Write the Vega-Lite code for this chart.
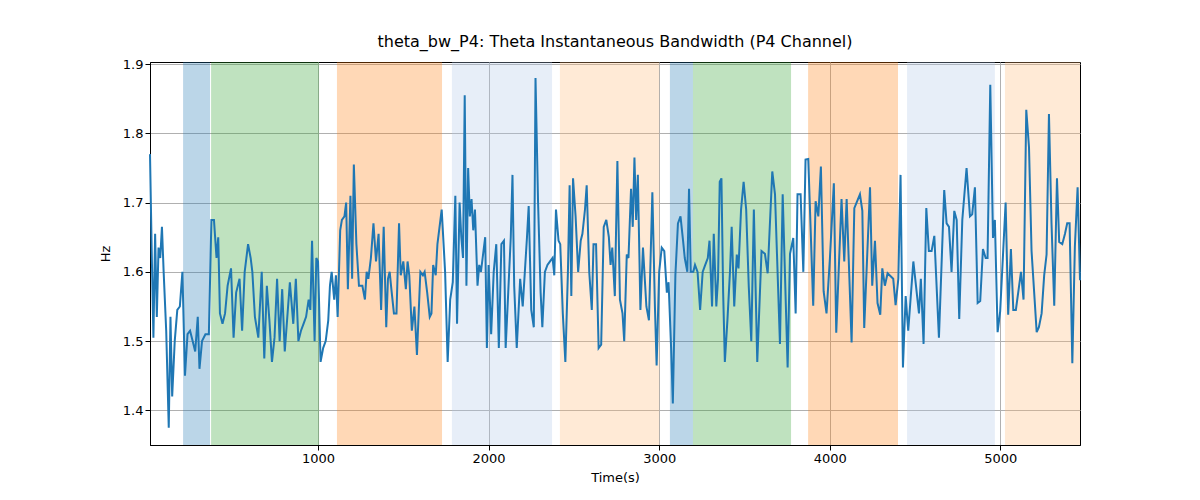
{
  "$schema": "https://vega.github.io/schema/vega-lite/v6.json",
  "width": 930,
  "height": 383,
  "autosize": "none",
  "padding": {"left": 150, "top": 62, "right": 120, "bottom": 55},
  "title": {"text": "theta_bw_P4: Theta Instantaneous Bandwidth (P4 Channel)", "font": "DejaVu Sans", "fontSize": 16, "fontWeight": "normal", "offset": 8},
  "datasets": {
    "bands": [
      {"x0": 209, "x1": 367, "c": "a"},
      {"x0": 373, "x1": 1006, "c": "g"},
      {"x0": 1111, "x1": 1727, "c": "o"},
      {"x0": 1785, "x1": 2372, "c": "lb"},
      {"x0": 2418, "x1": 3000, "c": "lo"},
      {"x0": 3063, "x1": 3198, "c": "a"},
      {"x0": 3198, "x1": 3773, "c": "g"},
      {"x0": 3873, "x1": 4400, "c": "o"},
      {"x0": 4453, "x1": 4968, "c": "lb"},
      {"x0": 5027, "x1": 5467, "c": "lo"}
    ],
    "line": [
      {"t":15,"v":1.77},{"t":25,"v":1.63},{"t":35,"v":1.505},{"t":45,"v":1.655},{"t":55,"v":1.535},{"t":65,"v":1.635},{"t":75,"v":1.62},{"t":85,"v":1.665},{"t":95,"v":1.6},{"t":110,"v":1.515},{"t":125,"v":1.375},{"t":135,"v":1.535},{"t":145,"v":1.42},{"t":160,"v":1.5},{"t":175,"v":1.545},{"t":190,"v":1.55},{"t":205,"v":1.6},{"t":220,"v":1.45},{"t":235,"v":1.51},{"t":250,"v":1.515},{"t":265,"v":1.5},{"t":280,"v":1.485},{"t":295,"v":1.535},{"t":305,"v":1.46},{"t":320,"v":1.5},{"t":340,"v":1.51},{"t":360,"v":1.51},{"t":375,"v":1.675},{"t":390,"v":1.675},{"t":405,"v":1.62},{"t":415,"v":1.65},{"t":425,"v":1.54},{"t":440,"v":1.525},{"t":455,"v":1.54},{"t":470,"v":1.58},{"t":490,"v":1.605},{"t":505,"v":1.505},{"t":520,"v":1.57},{"t":540,"v":1.59},{"t":555,"v":1.515},{"t":570,"v":1.6},{"t":590,"v":1.64},{"t":605,"v":1.62},{"t":615,"v":1.6},{"t":630,"v":1.535},{"t":650,"v":1.505},{"t":670,"v":1.6},{"t":685,"v":1.475},{"t":700,"v":1.58},{"t":715,"v":1.53},{"t":730,"v":1.47},{"t":745,"v":1.505},{"t":760,"v":1.59},{"t":775,"v":1.5},{"t":790,"v":1.575},{"t":805,"v":1.485},{"t":820,"v":1.535},{"t":835,"v":1.585},{"t":855,"v":1.525},{"t":870,"v":1.59},{"t":885,"v":1.5},{"t":900,"v":1.515},{"t":915,"v":1.525},{"t":930,"v":1.535},{"t":945,"v":1.56},{"t":955,"v":1.545},{"t":965,"v":1.645},{"t":980,"v":1.5},{"t":990,"v":1.62},{"t":1000,"v":1.615},{"t":1015,"v":1.47},{"t":1030,"v":1.49},{"t":1045,"v":1.5},{"t":1060,"v":1.53},{"t":1070,"v":1.58},{"t":1080,"v":1.6},{"t":1095,"v":1.56},{"t":1105,"v":1.595},{"t":1115,"v":1.535},{"t":1130,"v":1.66},{"t":1140,"v":1.675},{"t":1155,"v":1.68},{"t":1165,"v":1.7},{"t":1175,"v":1.575},{"t":1190,"v":1.71},{"t":1200,"v":1.59},{"t":1210,"v":1.755},{"t":1225,"v":1.64},{"t":1240,"v":1.58},{"t":1260,"v":1.58},{"t":1275,"v":1.56},{"t":1285,"v":1.6},{"t":1295,"v":1.59},{"t":1310,"v":1.62},{"t":1325,"v":1.67},{"t":1340,"v":1.615},{"t":1355,"v":1.655},{"t":1370,"v":1.545},{"t":1385,"v":1.665},{"t":1400,"v":1.52},{"t":1410,"v":1.59},{"t":1420,"v":1.6},{"t":1430,"v":1.575},{"t":1445,"v":1.54},{"t":1460,"v":1.54},{"t":1475,"v":1.67},{"t":1485,"v":1.595},{"t":1500,"v":1.615},{"t":1515,"v":1.575},{"t":1525,"v":1.615},{"t":1535,"v":1.595},{"t":1550,"v":1.515},{"t":1565,"v":1.55},{"t":1580,"v":1.48},{"t":1600,"v":1.6},{"t":1615,"v":1.595},{"t":1625,"v":1.6},{"t":1640,"v":1.57},{"t":1655,"v":1.535},{"t":1665,"v":1.54},{"t":1675,"v":1.61},{"t":1690,"v":1.595},{"t":1700,"v":1.64},{"t":1715,"v":1.67},{"t":1725,"v":1.69},{"t":1745,"v":1.6},{"t":1760,"v":1.47},{"t":1775,"v":1.56},{"t":1790,"v":1.585},{"t":1805,"v":1.71},{"t":1815,"v":1.525},{"t":1830,"v":1.7},{"t":1840,"v":1.65},{"t":1850,"v":1.62},{"t":1860,"v":1.855},{"t":1870,"v":1.58},{"t":1880,"v":1.75},{"t":1890,"v":1.68},{"t":1900,"v":1.705},{"t":1910,"v":1.66},{"t":1920,"v":1.69},{"t":1935,"v":1.58},{"t":1945,"v":1.61},{"t":1955,"v":1.6},{"t":1965,"v":1.62},{"t":1980,"v":1.65},{"t":1990,"v":1.49},{"t":2000,"v":1.61},{"t":2015,"v":1.51},{"t":2030,"v":1.6},{"t":2045,"v":1.64},{"t":2060,"v":1.49},{"t":2075,"v":1.64},{"t":2090,"v":1.645},{"t":2100,"v":1.49},{"t":2115,"v":1.57},{"t":2130,"v":1.65},{"t":2140,"v":1.74},{"t":2150,"v":1.58},{"t":2165,"v":1.49},{"t":2185,"v":1.59},{"t":2200,"v":1.55},{"t":2215,"v":1.61},{"t":2225,"v":1.65},{"t":2235,"v":1.695},{"t":2250,"v":1.545},{"t":2265,"v":1.52},{"t":2275,"v":1.88},{"t":2290,"v":1.7},{"t":2305,"v":1.57},{"t":2315,"v":1.52},{"t":2330,"v":1.6},{"t":2345,"v":1.61},{"t":2360,"v":1.615},{"t":2375,"v":1.62},{"t":2385,"v":1.595},{"t":2395,"v":1.69},{"t":2410,"v":1.645},{"t":2420,"v":1.64},{"t":2435,"v":1.54},{"t":2450,"v":1.47},{"t":2465,"v":1.6},{"t":2475,"v":1.725},{"t":2485,"v":1.565},{"t":2495,"v":1.735},{"t":2510,"v":1.68},{"t":2525,"v":1.6},{"t":2540,"v":1.645},{"t":2550,"v":1.655},{"t":2565,"v":1.69},{"t":2575,"v":1.725},{"t":2590,"v":1.6},{"t":2605,"v":1.545},{"t":2615,"v":1.64},{"t":2630,"v":1.64},{"t":2645,"v":1.49},{"t":2660,"v":1.495},{"t":2675,"v":1.665},{"t":2690,"v":1.675},{"t":2705,"v":1.65},{"t":2715,"v":1.61},{"t":2725,"v":1.635},{"t":2740,"v":1.565},{"t":2755,"v":1.76},{"t":2770,"v":1.56},{"t":2785,"v":1.54},{"t":2795,"v":1.5},{"t":2810,"v":1.625},{"t":2820,"v":1.62},{"t":2835,"v":1.72},{"t":2845,"v":1.665},{"t":2855,"v":1.765},{"t":2865,"v":1.675},{"t":2875,"v":1.74},{"t":2890,"v":1.545},{"t":2905,"v":1.635},{"t":2925,"v":1.55},{"t":2940,"v":1.53},{"t":2960,"v":1.715},{"t":2975,"v":1.55},{"t":2985,"v":1.465},{"t":3000,"v":1.6},{"t":3015,"v":1.635},{"t":3030,"v":1.63},{"t":3045,"v":1.57},{"t":3055,"v":1.585},{"t":3070,"v":1.49},{"t":3080,"v":1.41},{"t":3095,"v":1.595},{"t":3110,"v":1.67},{"t":3125,"v":1.68},{"t":3140,"v":1.645},{"t":3150,"v":1.62},{"t":3165,"v":1.6},{"t":3175,"v":1.72},{"t":3185,"v":1.6},{"t":3200,"v":1.6},{"t":3210,"v":1.61},{"t":3225,"v":1.6},{"t":3240,"v":1.545},{"t":3255,"v":1.6},{"t":3270,"v":1.61},{"t":3285,"v":1.62},{"t":3295,"v":1.645},{"t":3310,"v":1.55},{"t":3320,"v":1.655},{"t":3335,"v":1.55},{"t":3345,"v":1.59},{"t":3355,"v":1.73},{"t":3365,"v":1.735},{"t":3375,"v":1.57},{"t":3385,"v":1.47},{"t":3400,"v":1.53},{"t":3415,"v":1.6},{"t":3425,"v":1.665},{"t":3440,"v":1.55},{"t":3455,"v":1.625},{"t":3465,"v":1.605},{"t":3480,"v":1.69},{"t":3495,"v":1.73},{"t":3510,"v":1.69},{"t":3525,"v":1.58},{"t":3540,"v":1.5},{"t":3555,"v":1.69},{"t":3575,"v":1.47},{"t":3600,"v":1.63},
      {"t":3620,"v":1.626},{"t":3636,"v":1.598},{"t":3663,"v":1.745},{"t":3679,"v":1.712},{"t":3708,"v":1.496},{"t":3724,"v":1.712},{"t":3753,"v":1.462},{"t":3767,"v":1.626},{"t":3786,"v":1.649},{"t":3800,"v":1.54},{"t":3811,"v":1.712},{"t":3829,"v":1.712},{"t":3845,"v":1.6},{"t":3858,"v":1.762},{"t":3874,"v":1.763},{"t":3903,"v":1.551},{"t":3917,"v":1.702},{"t":3933,"v":1.68},{"t":3948,"v":1.752},{"t":3964,"v":1.572},{"t":3981,"v":1.54},{"t":4001,"v":1.62},{"t":4024,"v":1.728},{"t":4038,"v":1.512},{"t":4069,"v":1.705},{"t":4085,"v":1.615},{"t":4099,"v":1.705},{"t":4128,"v":1.498},{"t":4144,"v":1.692},{"t":4177,"v":1.712},{"t":4191,"v":1.688},{"t":4202,"v":1.519},{"t":4236,"v":1.722},{"t":4249,"v":1.58},{"t":4265,"v":1.645},{"t":4280,"v":1.555},{"t":4296,"v":1.538},{"t":4308,"v":1.605},{"t":4323,"v":1.58},{"t":4339,"v":1.598},{"t":4372,"v":1.59},{"t":4386,"v":1.552},{"t":4402,"v":1.59},{"t":4415,"v":1.74},{"t":4429,"v":1.462},{"t":4445,"v":1.565},{"t":4460,"v":1.515},{"t":4490,"v":1.615},{"t":4523,"v":1.54},{"t":4534,"v":1.59},{"t":4550,"v":1.496},{"t":4566,"v":1.692},{"t":4581,"v":1.63},{"t":4597,"v":1.63},{"t":4613,"v":1.652},{"t":4640,"v":1.505},{"t":4671,"v":1.718},{"t":4685,"v":1.67},{"t":4699,"v":1.665},{"t":4714,"v":1.6},{"t":4730,"v":1.688},{"t":4744,"v":1.675},{"t":4759,"v":1.532},{"t":4777,"v":1.675},{"t":4802,"v":1.75},{"t":4822,"v":1.68},{"t":4835,"v":1.683},{"t":4851,"v":1.722},{"t":4867,"v":1.555},{"t":4882,"v":1.558},{"t":4898,"v":1.633},{"t":4914,"v":1.62},{"t":4925,"v":1.62},{"t":4941,"v":1.87},{"t":4957,"v":1.649},{"t":4968,"v":1.675},{"t":4984,"v":1.513},{"t":4999,"v":1.543},{"t":5031,"v":1.7},{"t":5046,"v":1.538},{"t":5062,"v":1.633},{"t":5076,"v":1.545},{"t":5091,"v":1.545},{"t":5121,"v":1.6},{"t":5136,"v":1.56},{"t":5152,"v":1.834},{"t":5168,"v":1.78},{"t":5183,"v":1.63},{"t":5213,"v":1.513},{"t":5226,"v":1.52},{"t":5242,"v":1.54},{"t":5257,"v":1.595},{"t":5271,"v":1.625},{"t":5285,"v":1.828},{"t":5300,"v":1.67},{"t":5316,"v":1.551},{"t":5332,"v":1.735},{"t":5345,"v":1.643},{"t":5363,"v":1.64},{"t":5379,"v":1.655},{"t":5392,"v":1.67},{"t":5406,"v":1.67},{"t":5422,"v":1.468},{"t":5437,"v":1.637},{"t":5453,"v":1.722},{"t":5467,"v":1.588}
    ]
  },
  "layer": [
    {
      "data": {"name": "bands"},
      "mark": {"type": "rect", "opacity": 0.3},
      "encoding": {
        "x": {"field": "x0", "type": "quantitative"},
        "x2": {"field": "x1"},
        "color": {
          "field": "c", "type": "nominal", "legend": null,
          "scale": {"domain": ["a", "g", "o", "lb", "lo"], "range": ["#1f77b4", "#2ca02c", "#ff7f0e", "#aec7e8", "#ffbb78"]}
        }
      }
    },
    {
      "data": {"name": "line"},
      "mark": {"type": "line", "color": "#1f77b4", "strokeWidth": 2},
      "encoding": {
        "x": {
          "field": "t", "type": "quantitative", "title": "Time(s)",
          "scale": {"domain": [15, 5467], "nice": false, "zero": false},
          "axis": {"values": [1000, 2000, 3000, 4000, 5000], "format": "d"}
        },
        "y": {
          "field": "v", "type": "quantitative", "title": "Hz",
          "scale": {"domain": [1.35, 1.903], "nice": false, "zero": false},
          "axis": {"values": [1.4, 1.5, 1.6, 1.7, 1.8, 1.9], "format": ".1f"}
        }
      }
    }
  ],
  "config": {
    "view": {"stroke": "black", "strokeWidth": 1},
    "axis": {
      "labelFont": "DejaVu Sans", "titleFont": "DejaVu Sans",
      "labelFontSize": 13, "titleFontSize": 13, "titleFontWeight": "normal",
      "labelColor": "black", "titleColor": "black",
      "domainColor": "black", "tickColor": "black", "tickSize": 5,
      "grid": true, "gridColor": "#b0b0b0", "gridWidth": 1
    },
    "axisX": {"titlePadding": 6},
    "axisY": {"titlePadding": 10}
  }
}
